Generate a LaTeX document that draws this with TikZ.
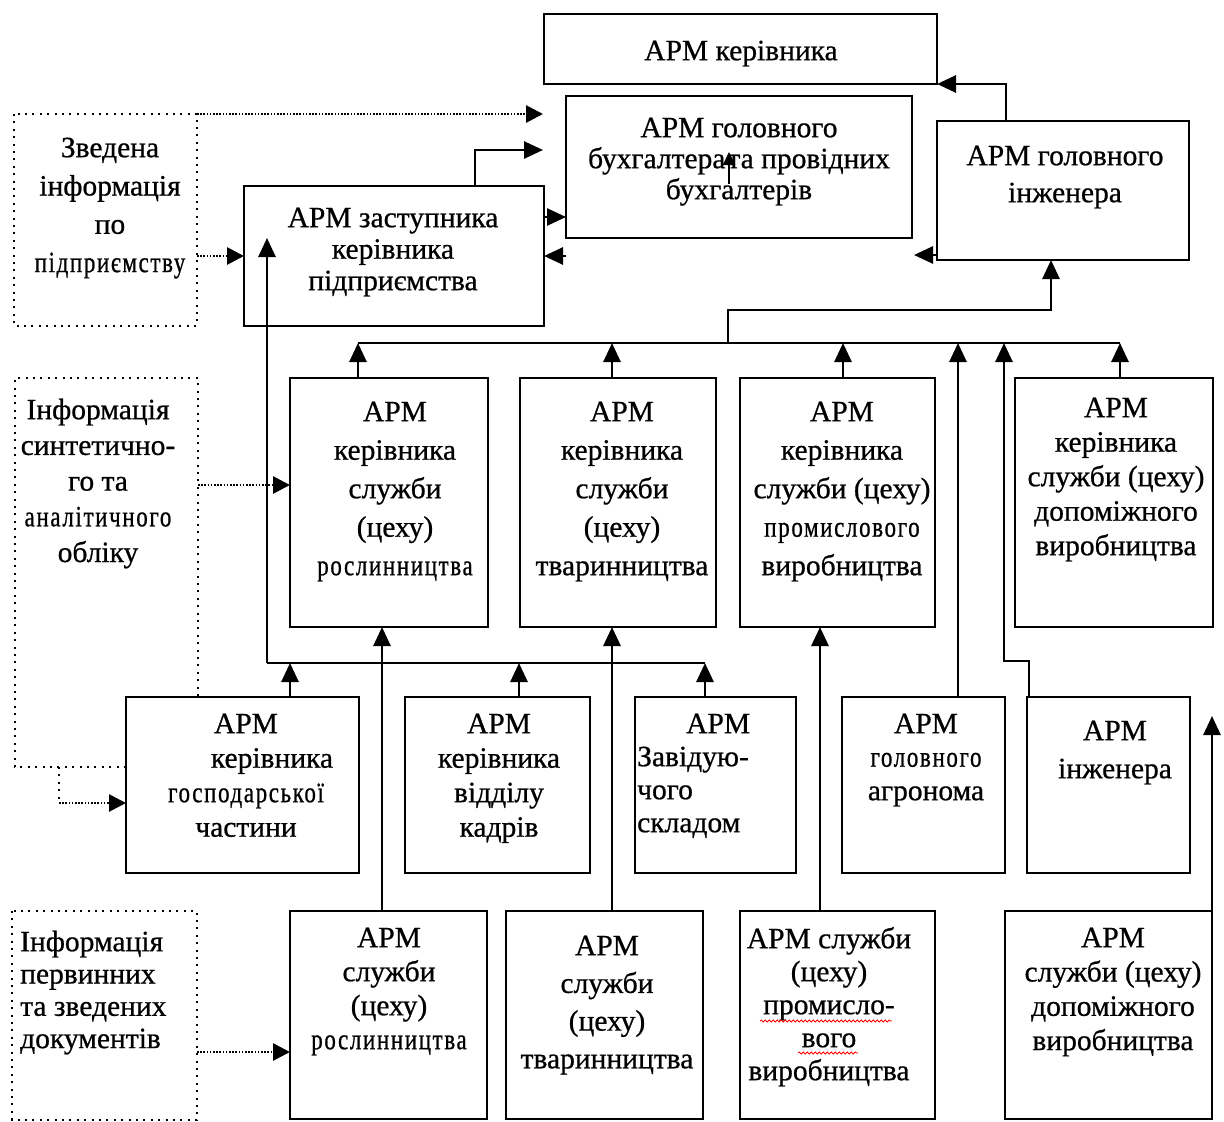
\documentclass[tikz,border=0pt]{standalone}
\usepackage{fontspec}
\setmainfont{Liberation Serif}[FakeBold=0.7]
\newfontfamily\cndf[FakeStretch=0.78,LetterSpace=5.5,FakeBold=0.7]{Liberation Serif}
\usetikzlibrary{arrows.meta,decorations.pathmorphing}
\newcommand\mystrut{\rule{0pt}{22pt}}
\begin{document}
\begin{tikzpicture}[x=1pt,y=-1pt,
  box/.style={draw, line width=2.3pt, anchor=north west, inner sep=0pt, outer sep=0pt},
  dotbox/.style={line width=2.3pt, dash pattern=on 2pt off 5.4pt},
  conn/.style={line width=2.8pt},
  arr/.style={conn, -{Triangle[length=19pt,width=17pt]}},
  arrs/.style={line width=2.2pt, -{Triangle[length=13pt,width=12pt]}},
  darr/.style={line width=2.8pt, dash pattern=on 1.5pt off 1.7pt, -{Triangle[length=17pt,width=17pt]}},
  txt/.style={inner sep=0pt, anchor=north, align=center, font=\fontsize{29.5pt}{#1}\selectfont},
  txtl/.style={inner sep=0pt, anchor=north west, align=left, font=\fontsize{29.5pt}{#1}\selectfont},
  wavy/.style={red, line width=0.8pt, decorate, decoration={snake, amplitude=1pt, segment length=4pt}}
]
\fill[white] (0,0) rectangle (1224,1122);
\useasboundingbox (0,0) rectangle (1224,1122);

% ---------- boxes ----------
\node[box, minimum width=393pt, minimum height=70pt]  (K)  at (544,14)  {};
\node[box, minimum width=346pt, minimum height=142pt] (B)  at (566,96)  {};
\node[box, minimum width=252pt, minimum height=139pt] (I)  at (937,121) {};
\node[box, minimum width=300pt, minimum height=140pt] (Z)  at (244,186) {};
\node[box, minimum width=198pt, minimum height=249pt] (R1) at (290,378) {};
\node[box, minimum width=196pt, minimum height=249pt] (R2) at (520,378) {};
\node[box, minimum width=195pt, minimum height=249pt] (R3) at (740,378) {};
\node[box, minimum width=198pt, minimum height=249pt] (R4) at (1015,378) {};
\node[box, minimum width=233pt, minimum height=176pt] (G)  at (126,697) {};
\node[box, minimum width=185pt, minimum height=176pt] (KD) at (405,697) {};
\node[box, minimum width=161pt, minimum height=176pt] (S)  at (635,697) {};
\node[box, minimum width=163pt, minimum height=176pt] (A)  at (842,697) {};
\node[box, minimum width=163pt, minimum height=176pt] (In) at (1027,697) {};
\node[box, minimum width=197pt, minimum height=208pt] (P1) at (290,911) {};
\node[box, minimum width=197pt, minimum height=208pt] (P2) at (506,911) {};
\node[box, minimum width=195pt, minimum height=208pt] (P3) at (740,911) {};
\node[box, minimum width=207pt, minimum height=208pt] (P4) at (1005,911) {};

% ---------- dotted information blocks ----------
\node[box, draw=none, minimum width=183pt, minimum height=212pt] (D1) at (14,114) {};
\draw[dotbox] (D1.north west) rectangle (D1.south east);
\draw[dotbox] (126,767) -- (15,767) -- (15,378) -- (198,378) -- (198,697);
\node[box, draw=none, minimum width=185pt, minimum height=209pt] (D3) at (12,911) {};
\draw[dotbox] (D3.north west) rectangle (D3.south east);

% ---------- texts ----------
\node[txt=31pt] (tK) at (741,38) {\mystrut АРМ керівника};
\node[txt=31pt] (tB) at (739,115) {\mystrut АРМ головного\\бухгалтера\hspace{2pt}та провідних\\бухгалтерів};
\node[txt=37pt] (tI) at (1065,143) {\mystrut АРМ головного\\інженера};
\node[txt=31.5pt] (tZ) at (393,205) {\mystrut АРМ заступника\\керівника\\підприємства};
\node[txt=38.3pt] (tD1) at (110,135) {\mystrut Зведена\\інформація\\по\\{\cndf підприємству}};
\node[txt=35.7pt] (tD2) at (98,397) {\mystrut Інформація\\синтетично-\\го та\\{\cndf аналітичного}\\обліку};
\node[txtl=32.3pt] (tD3) at (20,929) {\mystrut Інформація\\первинних\\та зведених\\документів};

\node[txt=38.5pt] (tR1) at (395,399) {\mystrut АРМ\\керівника\\служби\\(цеху)\\{\cndf рослинництва}};
\node[txt=38.5pt] (tR2) at (622,399) {\mystrut АРМ\\керівника\\служби\\(цеху)\\тваринництва};
\node[txt=38.5pt] (tR3) at (842,399) {\mystrut АРМ\\керівника\\служби (цеху)\\{\cndf промислового}\\виробництва};
\node[txt=34.5pt] (tR4) at (1116,395) {\mystrut АРМ\\керівника\\служби (цеху)\\допоміжного\\виробництва};

\node[txt=34.5pt] (tG) at (246,711) {\mystrut АРМ\\\hspace*{52pt}керівника\\{\cndf господарської}\hspace*{24pt}\\частини};
\node[txt=34.5pt] (tKD) at (499,711) {\mystrut АРМ\\керівника\\відділу\\кадрів};
\node[txtl=33pt] (tS) at (637,711) {\mystrut\hspace*{49pt}АРМ\\Завідую-\\чого\\складом};
\node[txt=33.5pt] (tA) at (926,711) {\mystrut АРМ\\{\cndf головного}\\агронома};
\node[txt=38pt] (tIn) at (1115,718) {\mystrut АРМ\\інженера};

\node[txt=34pt] (tP1) at (389,925) {\mystrut АРМ\\служби\\(цеху)\\{\cndf рослинництва}};
\node[txt=37.7pt] (tP2) at (607,933) {\mystrut АРМ\\служби\\(цеху)\\тваринництва};
\node[txt=33pt] (tP3) at (829,926) {\mystrut АРМ служби\\(цеху)\\промисло-\\вого\\виробництва};
\node[txt=34.3pt] (tP4) at (1113,925) {\mystrut АРМ\\служби (цеху)\\допоміжного\\виробництва};

% spell-check underlines
\coordinate (w1a) at (760,1021); \coordinate (w1b) at (892,1021);
\coordinate (w2a) at (798,1053); \coordinate (w2b) at (858,1053);
\draw[wavy] (w1a) -- (w1b);
\draw[wavy] (w2a) -- (w2b);

% ---------- helper coordinates ----------
\coordinate (x1006) at (1006,0);
\coordinate (y255) at (0,255);
\coordinate (sIe) at (914,255);
\coordinate (y217) at (0,217);
\coordinate (x475) at (475,0);
\coordinate (t150) at (543,150);
\coordinate (t115) at (543,114);
\coordinate (y485) at (0,485);
\coordinate (d2r) at (198,485);
\coordinate (d2b) at (59,767);
\coordinate (y803) at (0,803);
\coordinate (y1052) at (0,1052);
\coordinate (sa1) at (729,184);
\coordinate (sa2) at (729,152);
\coordinate (busL) at (358,343);
\coordinate (busR) at (1120,343);
\coordinate (x612) at (612,0);
\coordinate (x843) at (843,0);
\coordinate (x728) at (728,0);
\coordinate (x1051) at (1051,0);
\coordinate (y310) at (0,310);
\coordinate (x958) at (958,0);
\coordinate (x1029) at (1029,0);
\coordinate (x1004) at (1004,0);
\coordinate (y661) at (0,661);
\coordinate (x382) at (382,0);
\coordinate (x820) at (820,0);
\coordinate (x1212) at (1212,0);
\coordinate (y1000) at (0,1000);
\coordinate (y716) at (0,716);
\coordinate (h1) at (267,663);
\coordinate (h2) at (705,663);
\coordinate (x290) at (290,0);
\coordinate (x519) at (519,0);
\coordinate (y238) at (0,238);

% ---------- top connectors ----------
\draw[arr] (I.north -| x1006) |- (K.south east);
\draw[arr] (I.south west |- y255) -- (sIe);
\draw[arr] (Z.east |- y217) -- (B.west |- y217);
\draw[arr] (B.west |- Z.east) -- (Z.east);
\draw[arr] (Z.north -| x475) |- (t150);
\draw[arrs] (sa1) -- (sa2);

% ---------- dotted connectors ----------
\draw[darr] (D1.north east) -- (t115);
\draw[darr] (D1.east |- Z.west) -- (Z.west);
\draw[darr] (d2r) -- (R1.west |- y485);
\draw[dotbox] (d2b) -- (d2b |- y803);
\draw[darr] (d2b |- y803) -- (G.west |- y803);
\draw[darr] (D3.east |- y1052) -- (P1.west |- y1052);

% ---------- bus to chief engineer ----------
\draw[conn] (busL) -- (busR);
\draw[arr] (R1.north -| busL) -- (busL);
\draw[arr] (R2.north -| x612) -- (busL -| x612);
\draw[arr] (R3.north -| x843) -- (busL -| x843);
\draw[arr] (R4.north -| busR) -- (busR);
\draw[arr] (busL -| x728) |- (x1051 |- y310) -- (I.south -| x1051);
\draw[arr] (A.north -| x958) -- (busL -| x958);
\draw[arr] (In.north -| x1029) |- (x1004 |- y661) -- (busL -| x1004);

% ---------- lower connectors ----------
\draw[arr] (P1.north -| x382) -- (R1.south -| x382);
\draw[arr] (P2.north -| x612) -- (R2.south -| x612);
\draw[arr] (P3.north -| x820) -- (R3.south -| x820);
\draw[arr] (x1212 |- y1000) -- (x1212 |- y716);

\draw[conn] (h1) -- (h2);
\draw[arr] (G.north -| x290) -- (h1 -| x290);
\draw[arr] (KD.north -| x519) -- (h1 -| x519);
\draw[arr] (S.north -| h2) -- (h2);
\draw[arr] (h1) -- (h1 |- y238);
\end{tikzpicture}
\end{document}
